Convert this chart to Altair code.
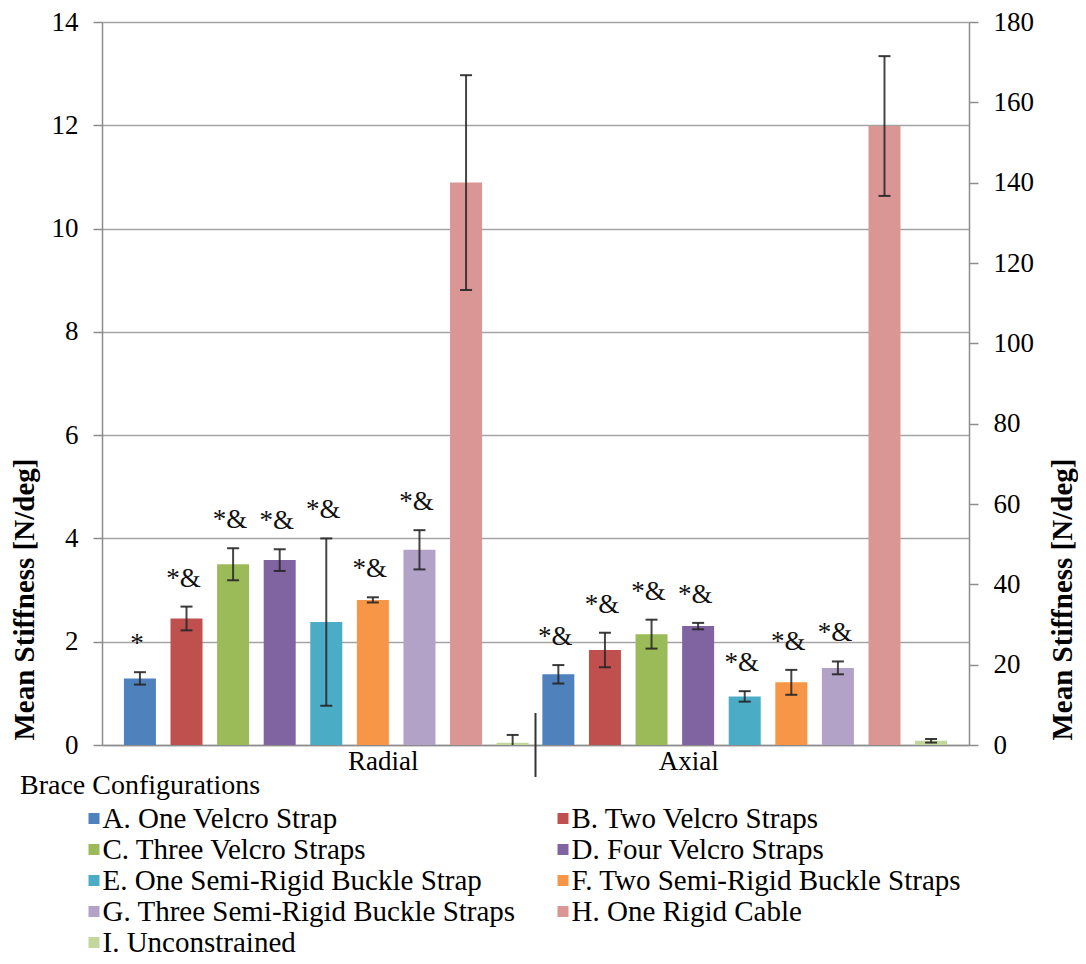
import altair as alt
import pandas as pd

groups = ["Radial", "Axial"]
configs = [
    "A. One Velcro Strap",
    "B. Two Velcro Straps",
    "C. Three Velcro Straps",
    "D. Four Velcro Straps",
    "E. One Semi-Rigid Buckle Strap",
    "F. Two Semi-Rigid Buckle Straps",
    "G. Three Semi-Rigid Buckle Straps",
    "H. One Rigid Cable",
    "I. Unconstrained",
]
colors = ["#4F81BD", "#C0504D", "#9BBB59", "#8064A2", "#4BACC6",
          "#F79646", "#B3A2C7", "#D99694", "#C3D69B"]

radial_mean = [1.29, 2.45, 3.50, 3.58, 2.38, 2.81, 3.78, 10.89, 0.045]
radial_err = [0.12, 0.23, 0.31, 0.21, 1.62, 0.05, 0.38, 2.08, 0.15]
radial_label = ["*", "*&", "*&", "*&", "*&", "*&", "*&", "", ""]

axial_mean = [17.6, 23.65, 27.6, 29.6, 12.1, 15.6, 19.2, 154.1, 1.05]
axial_err = [2.3, 4.3, 3.6, 0.8, 1.3, 3.1, 1.6, 17.4, 0.45]
axial_label = ["*&", "*&", "*&", "*&", "*&", "*&", "*&", "", ""]

radial_ticks = [0, 2, 4, 6, 8, 10, 12, 14]
axial_ticks = [0, 20, 40, 60, 80, 100, 120, 140, 160, 180]
divider_group = ["Axial"]
divider_top = [0.62]
divider_bottom = [-0.62]

FONT = "Liberation Serif"
GRAY = "#8c8c8c"
GRID = "#a3a3a3"
EC = "#262626"
YTITLE = "Mean Stiffness [N/deg]"


def frame(group, means, errs, labels):
    return pd.DataFrame({
        "group": [group] * len(configs),
        "config": configs,
        "mean": means,
        "lo": [m - e for m, e in zip(means, errs)],
        "hi": [m + e for m, e in zip(means, errs)],
        "label": labels,
    })


df_r = frame("Radial", radial_mean, radial_err, radial_label)
df_a = frame("Axial", axial_mean, axial_err, axial_label)
df_div = pd.DataFrame({"group": divider_group, "top": divider_top, "bottom": divider_bottom})

x_scale = alt.Scale(domain=groups, paddingInner=0, paddingOuter=0.036)
x_axis = alt.Axis(
    title=None, ticks=False, tickSize=0, labelFont=FONT, labelFontSize=27,
    labelColor="black", labelPadding=3, labelAngle=0, domainColor=GRAY,
    domainWidth=1.5,
    labelOffset={"condition": {"test": "datum.value === 'Radial'", "value": 57}, "value": -56},
)
x_enc = alt.X("group:N", scale=x_scale, axis=x_axis)
xo_enc = alt.XOffset("config:N", scale=alt.Scale(domain=configs, paddingInner=0.313, paddingOuter=0.147))

legend = alt.Legend(
    title="Brace Configurations", orient="none", legendX=-82, legendY=750,
    columns=2, direction="horizontal", gridAlign="none", symbolType="square",
    symbolSize=121, symbolStrokeWidth=0, symbolOffset=59.5,
    labelOffset={"expr": "-6"}, labelFont=FONT, labelFontSize=29,
    labelColor="black", labelLimit=700, titleFont=FONT, titleFontSize=28,
    titleFontWeight="normal", titleColor="black", titlePadding=4,
    rowPadding=1, columnPadding=-27, titleLimit=700,
)
color_enc = alt.Color("config:N", scale=alt.Scale(domain=configs, range=colors), legend=legend)


def make_axis(orient, values, grid, title_x):
    return alt.Axis(
        orient=orient, values=values, grid=grid, gridColor=GRID, gridWidth=1.5,
        domainColor=GRAY, domainWidth=1.5, tickColor=GRAY, tickWidth=1.5, tickSize=9,
        labelFont=FONT, labelFontSize=27, labelColor="black", labelPadding=15,
        title=YTITLE, titleFont=FONT, titleFontSize=29, titleFontWeight="bold",
        titleColor="black", titleAngle=270, titleAlign="left", titleLimit=1000,
        titleBaseline="alphabetic", titleX=title_x, titleY=718,
    )


def panel(df, top, values, orient, grid, title_x, extra=None):
    yscale = alt.Scale(domain=[0, top], nice=False, zero=True)
    axis = make_axis(orient, values, grid, title_x)
    base = alt.Chart(df).encode(x=x_enc, xOffset=xo_enc)
    bars = base.mark_bar().encode(
        y=alt.Y("mean:Q", scale=yscale, axis=axis, title=YTITLE), color=color_enc
    )
    rule = base.mark_rule(color=EC, strokeWidth=2, opacity=0.85, clip=True).encode(
        y=alt.Y("lo:Q", scale=yscale, axis=axis, title=YTITLE), y2="hi:Q"
    )
    cap_hi = base.mark_tick(color=EC, size=12, thickness=2, opacity=0.9, clip=True).encode(
        y=alt.Y("hi:Q", scale=yscale, axis=axis, title=YTITLE)
    )
    cap_lo = base.mark_tick(color=EC, size=12, thickness=2, opacity=0.9, clip=True).encode(
        y=alt.Y("lo:Q", scale=yscale, axis=axis, title=YTITLE)
    )
    text = base.mark_text(font=FONT, fontSize=27, color="#111111", baseline="alphabetic",
                          align="center", dy=-20, dx=-3).encode(
        y=alt.Y("hi:Q", scale=yscale, axis=axis, title=YTITLE), text="label:N"
    )
    layers = [bars, rule, cap_hi, cap_lo, text]
    if extra is not None:
        div = alt.Chart(extra).mark_rule(color="#333333", strokeWidth=2).encode(
            x=alt.X("group:N", bandPosition=0, scale=x_scale, axis=x_axis),
            y=alt.Y("top:Q", scale=yscale, axis=axis, title=YTITLE),
            y2="bottom:Q",
        )
        layers.append(div)
    return alt.layer(*layers)


radial = panel(df_r, 14, radial_ticks, "left", True, -69, extra=df_div)
axial = panel(df_a, 180, axial_ticks, "right", False, 102)

chart = (
    alt.layer(radial, axial)
    .resolve_scale(y="independent")
    .properties(
        width=867, height=723,
        autosize=alt.AutoSizeParams(type="none"),
        padding={"left": 94, "top": 14, "right": 109, "bottom": 211},
    )
    .configure_view(stroke=None)
    .configure(font=FONT, background="white")
)

chart.save("out.html", embed_options={"renderer": "svg", "actions": False})
